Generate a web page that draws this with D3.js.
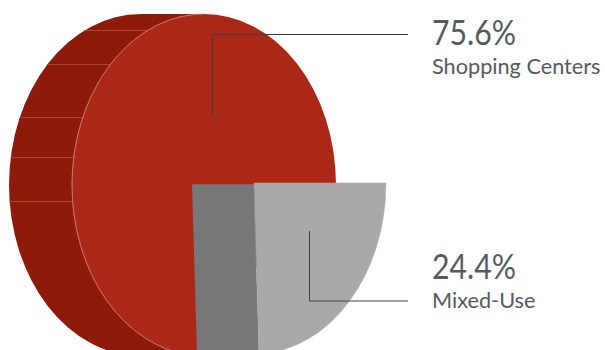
<!DOCTYPE html>
<html>
<head>
<meta charset="utf-8">
<script src="https://cdn.jsdelivr.net/npm/d3@7"></script>
<style>
  html, body { margin: 0; padding: 0; background: #fff; }
  svg { display: block; }
  text { font-family: Lato, "Open Sans", sans-serif; fill: #555a62; }
</style>
</head>
<body>
<svg id="chart" width="605" height="350"></svg>
<script>
// Portfolio split by property type
const categories = ["Shopping Centers", "Mixed-Use"];
const shares = [75.6, 24.4];
const shareLabels = ["75.6%", "24.4%"];

const faceColors = ["#ab2717", "#a7a9ab"];
const wallColors = ["#8e1a09", "#757779"];

// Elliptical pie geometry
const cx = 204, cy = 185, rx = 132, ry = 171;
const depth = 63;         // sideways extrusion of the cylinder
const explode = 50;       // how far the smaller slice is pulled out
const explodeY = -2;
const seamYs = [30.5, 64.5, 117.5, 157.5, 201.5];

const svg = d3.select("#chart");

const pie = d3.pie().sort(null)
  .startAngle(Math.PI / 2 + 2 * Math.PI * shares[1] / 100 - 2 * Math.PI)
  .endAngle(Math.PI / 2 + 2 * Math.PI * shares[1] / 100);
const slices = pie(shares);
const arc = d3.arc().innerRadius(0).outerRadius(ry);
const squash = `scale(${rx / ry},1)`;

// Edge of the ellipse at a given height, used for the wall seams
const edgeX = (centerX, y) => centerX - rx * Math.sqrt(1 - ((y - cy) / ry) ** 2);

// Back wall of the cylinder
const wall = svg.append("g");
wall.append("ellipse")
  .attr("cx", cx - depth).attr("cy", cy).attr("rx", rx).attr("ry", ry)
  .attr("fill", wallColors[0]);
wall.append("rect")
  .attr("x", cx - depth).attr("y", cy - ry)
  .attr("width", depth).attr("height", 2 * ry)
  .attr("fill", wallColors[0]);

wall.selectAll("line").data(seamYs).join("line")
  .attr("x1", y => edgeX(cx - depth, y)).attr("x2", y => edgeX(cx, y))
  .attr("y1", y => y).attr("y2", y => y)
  .attr("stroke", "#a8483a").attr("stroke-width", 1);

// Large slice face
svg.append("path")
  .attr("transform", `translate(${cx},${cy}) ${squash}`)
  .attr("d", arc(slices[0]))
  .attr("fill", faceColors[0]);

// Pale rim along the visible left edge of the face
const rim = d3.arc().innerRadius(ry).outerRadius(ry);
svg.append("path")
  .attr("transform", `translate(${cx},${cy}) ${squash}`)
  .attr("d", rim({ startAngle: Math.PI * 1.06, endAngle: Math.PI * 2 }))
  .attr("fill", "none")
  .attr("stroke", "#cf8177").attr("stroke-width", 0.6)
  .attr("vector-effect", "non-scaling-stroke");

// Pulled-out slice: its cut wall, then its face
const sx = cx + explode, sy = cy + explodeY;
const end = slices[1].endAngle;
const endX = sx + rx * Math.sin(end), endY = sy - ry * Math.cos(end);
const cut = d3.path();
cut.moveTo(sx, sy + 1.3);
cut.lineTo(endX, endY);
cut.lineTo(endX - depth + 1, endY);
cut.lineTo(sx - depth + 1, sy + 1.3);
cut.closePath();
svg.append("path").attr("d", cut.toString()).attr("fill", wallColors[1]);

svg.append("path")
  .attr("transform", `translate(${sx},${sy}) ${squash}`)
  .attr("d", arc(slices[1]))
  .attr("fill", faceColors[1])
  .attr("stroke", faceColors[1]).attr("stroke-width", 0.5)
  .attr("vector-effect", "non-scaling-stroke");

// Leader lines from each slice to its label
const leaders = [
  { x: 212.5, y0: 117, y: 34.5 },
  { x: 309.5, y0: 231, y: 301 }
];
svg.selectAll("path.leader").data(leaders).join("path")
  .attr("class", "leader")
  .attr("d", d => {
    const p = d3.path();
    p.moveTo(d.x, d.y0);
    p.lineTo(d.x, d.y);
    p.lineTo(408, d.y);
    return p.toString();
  })
  .attr("fill", "none").attr("stroke", "#3f3f41").attr("stroke-width", 1);

// Labels
const labelBase = [45, 279];
const nameBase = [74, 308];
svg.selectAll("text.share").data(shareLabels).join("text")
  .attr("class", "share")
  .attr("x", 432).attr("y", (d, i) => labelBase[i])
  .attr("font-size", 34)
  .attr("textLength", 84).attr("lengthAdjust", "spacingAndGlyphs")
  .text(d => d);
svg.selectAll("text.name").data(categories).join("text")
  .attr("class", "name")
  .attr("x", 432).attr("y", (d, i) => nameBase[i])
  .attr("font-size", 21.7).text(d => d);
</script>
</body>
</html>
